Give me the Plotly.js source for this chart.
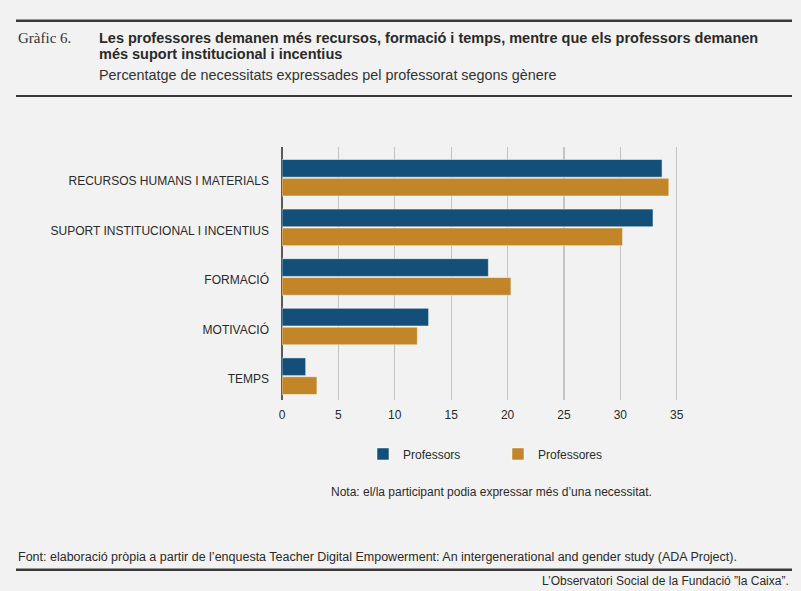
<!DOCTYPE html>
<html>
<head>
<meta charset="utf-8">
<script src="https://cdn.plot.ly/plotly-3.0.1.min.js"></script>
<style>
  html, body { margin: 0; padding: 0; background: #f2f2f2; }
  #chart { width: 801px; height: 591px; }
</style>
</head>
<body>
<div id="chart"></div>
<script>
// categories, top to bottom
const categories = [
  "RECURSOS HUMANS I MATERIALS",
  "SUPORT INSTITUCIONAL I INCENTIUS",
  "FORMACIÓ",
  "MOTIVACIÓ",
  "TEMPS",
];
// percentatge per gènere
const professors = [33.7, 32.9, 18.3, 13.0, 2.1];
const professores = [34.3, 30.2, 20.3, 12.0, 3.1];
const xTicks = [0, 5, 10, 15, 20, 25, 30, 35];

const BLUE = "#144f79";
const ORANGE = "#c28527";
const INK = "#2a2a2a";
const FONT = "Liberation Sans, Arial, sans-serif";

// plot box in page pixels
const L = 282, T = 147, W = 406, H = 252.6;
const FW = 801, FH = 591;
const px = (x) => (x - L) / W;
const py = (y) => 1 - (y - T) / H;

const hline = (y, w) => ({
  type: "line", xref: "paper", yref: "paper",
  x0: px(16), x1: px(792), y0: py(y), y1: py(y),
  line: { color: "#3a3a3a", width: w },
});

const note = (text, x, y, anchor, size, extra) =>
  Object.assign({
    text: text, xref: "paper", yref: "paper",
    x: px(x), y: py(y), xanchor: anchor, yanchor: "middle",
    showarrow: false, align: anchor,
    font: { family: FONT, size: size, color: INK },
  }, extra || {});

const traces = [
  {
    type: "bar", orientation: "h", name: "Professors",
    y: categories, x: professors,
    marker: { color: BLUE, line: { color: "rgba(255,255,255,0.5)", width: 1 } },
    hoverinfo: "x+name",
  },
  {
    type: "bar", orientation: "h", name: "Professores",
    y: categories, x: professores,
    marker: { color: ORANGE, line: { color: "rgba(255,255,255,0.5)", width: 1 } },
    hoverinfo: "x+name",
  },
];

const layout = {
  width: FW, height: FH,
  paper_bgcolor: "#f2f2f2", plot_bgcolor: "#f2f2f2",
  margin: { l: L, t: T, r: FW - L - W, b: FH - T - H, pad: 0 },
  barmode: "group", bargap: 0.24, bargroupgap: 0.06,
  font: { family: FONT, size: 12, color: INK },
  xaxis: {
    range: [0, 36], tickvals: xTicks, ticks: "",
    showgrid: true, gridcolor: "#c3c3c3", gridwidth: 1,
    zeroline: true, zerolinecolor: "#5a5a5a", zerolinewidth: 1.5,
    ticklabelstandoff: 6,
    tickfont: { family: FONT, size: 12, color: INK },
    fixedrange: true,
  },
  yaxis: {
    type: "category", range: [4.48, -0.62], autorange: false,
    ticks: "", showgrid: false, zeroline: false,
    ticklabelstandoff: 12, ticklabelshift: -3,
    tickfont: { family: FONT, size: 12, color: INK },
    fixedrange: true,
  },
  showlegend: true,
  legend: {
    orientation: "h", traceorder: "normal",
    x: px(363), y: py(439), xanchor: "left", yanchor: "top",
    bgcolor: "rgba(0,0,0,0)", entrywidth: 90, entrywidthmode: "pixels",
    font: { family: FONT, size: 12, color: INK },
  },
  shapes: [
    hline(21, 2.5),
    hline(96, 2),
    hline(569, 2.5),
    {
      type: "line", xref: "x", yref: "paper", layer: "below",
      x0: 25, x1: 25, y0: 0, y1: 1,
      line: { color: "#8a8a8a", width: 1 },
    },
  ],
  annotations: [
    note("Gràfic 6.", 16, 38, "left", 15, { font: { family: "Liberation Serif, serif", size: 15, color: "#333" } }),
    note("<b>Les professores demanen més recursos, formació i temps, mentre que els professors demanen</b>", 97, 38, "left", 14.5),
    note("<b>més suport institucional i incentius</b>", 97, 54, "left", 14.5),
    note("Percentatge de necessitats expressades pel professorat segons gènere", 97, 75, "left", 14.4, { font: { family: FONT, size: 14.4, color: "#333" } }),
    note("Nota: el/la participant podia expressar més d’una necessitat.", 491, 491, "center", 12),
    note("Font: elaboració pròpia a partir de l’enquesta Teacher Digital Empowerment: An intergenerational and gender study (ADA Project).", 16, 556, "left", 12.5),
    note("L’Observatori Social de la Fundació ”la Caixa”.", 791, 580, "right", 12),
  ],
};

Plotly.newPlot("chart", traces, layout, { displayModeBar: false, staticPlot: true });
</script>
</body>
</html>
